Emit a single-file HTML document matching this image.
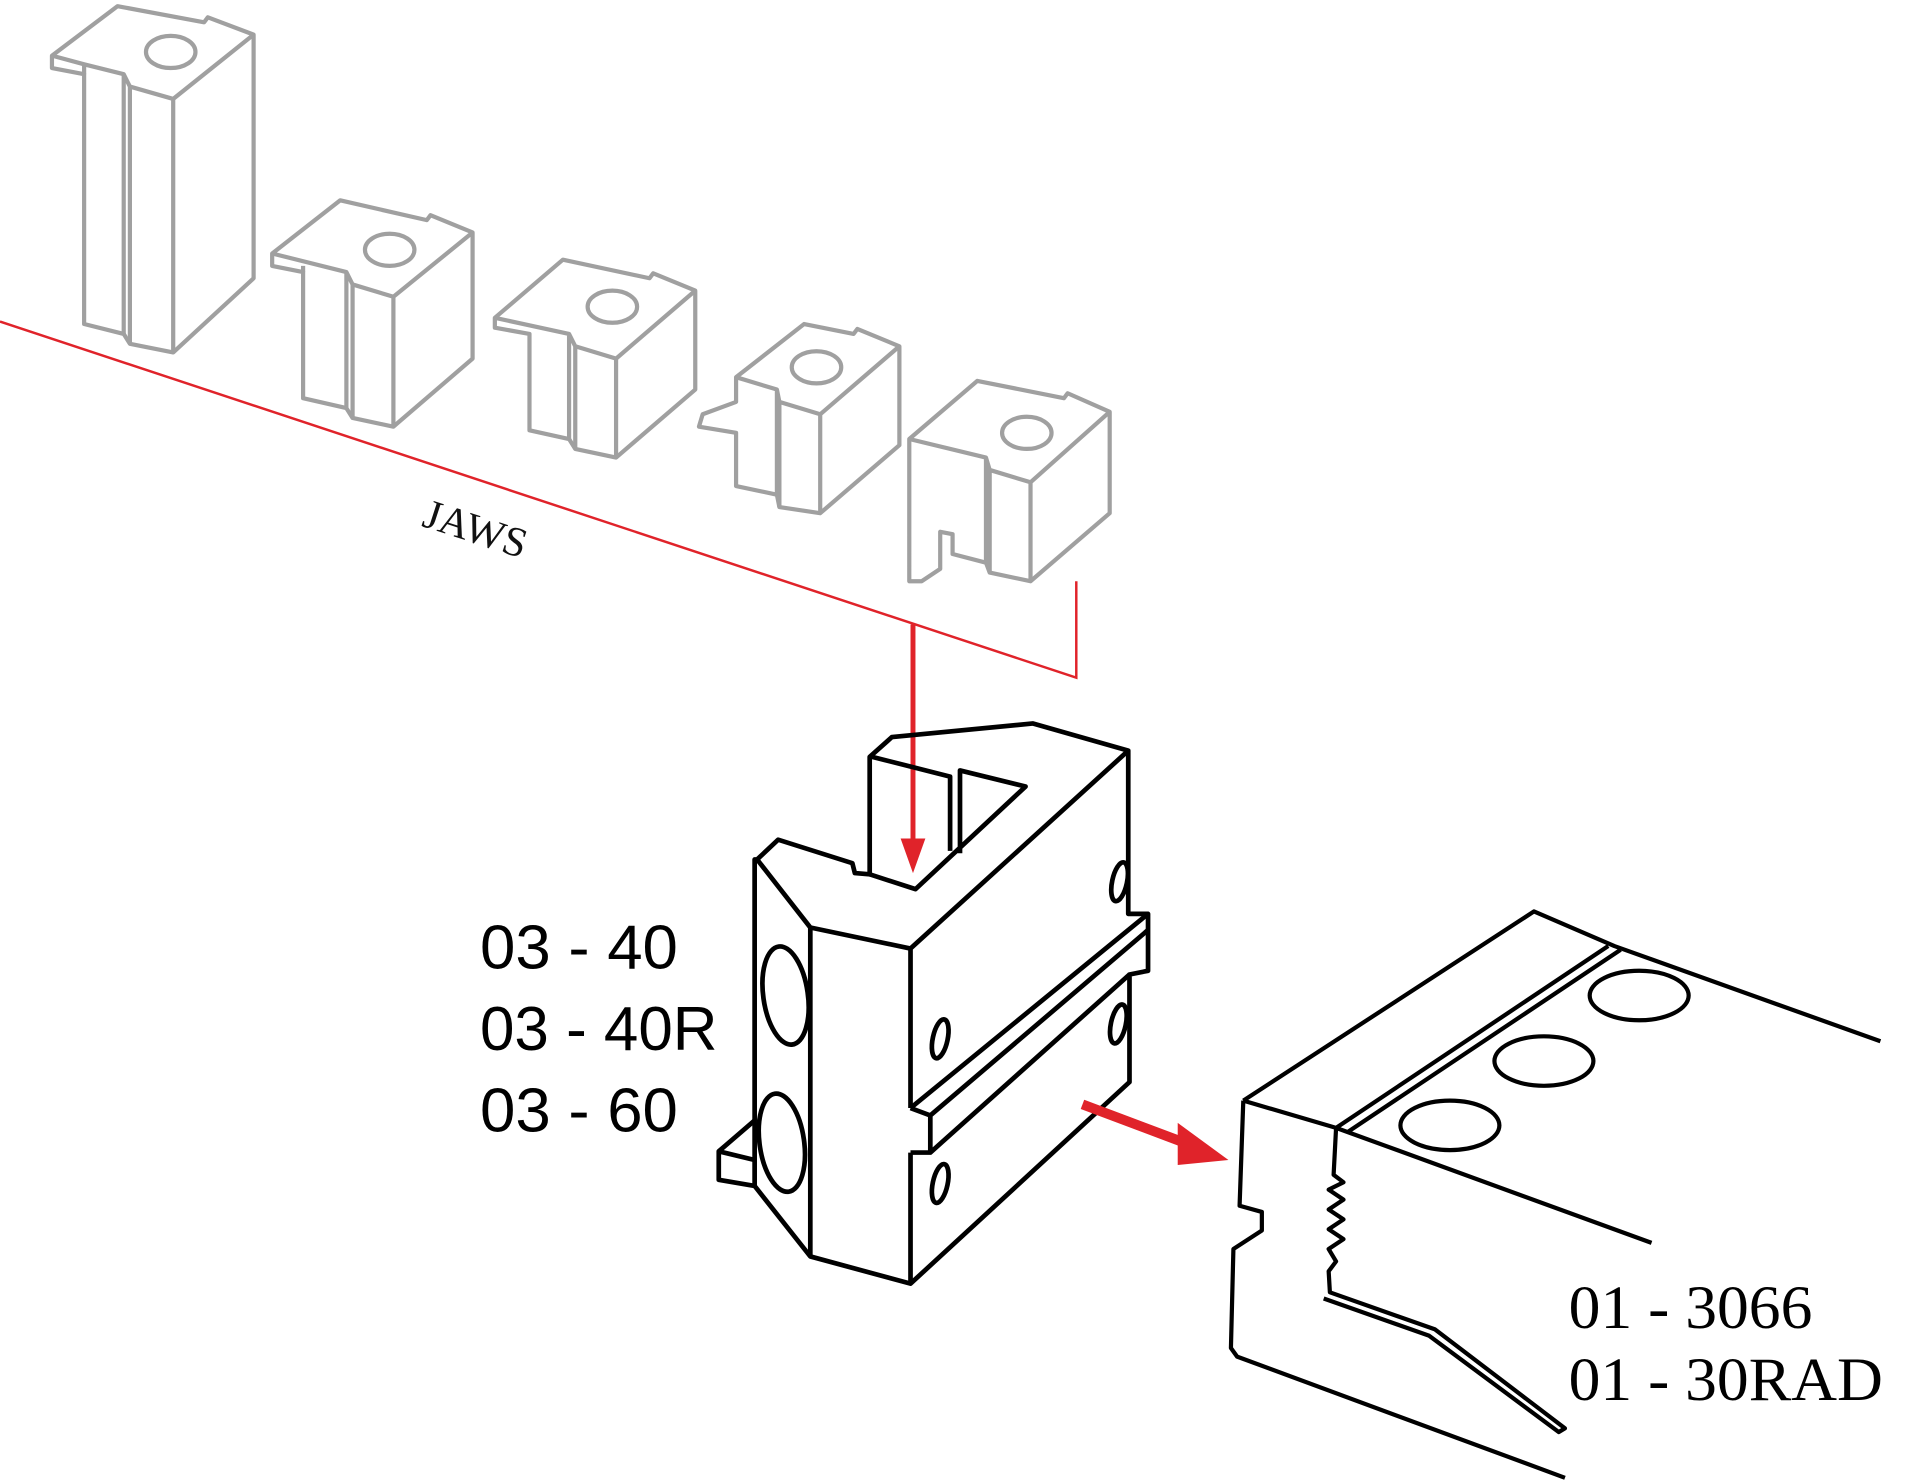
<!DOCTYPE html>
<html><head><meta charset="utf-8"><style>
html,body{margin:0;padding:0;background:#fff;width:1920px;height:1484px;overflow:hidden}
svg{display:block}
</style></head><body>
<svg width="1920" height="1484" viewBox="0 0 1552 1200" preserveAspectRatio="none" xmlns="http://www.w3.org/2000/svg">
<g fill="none" stroke="#a0a0a0" stroke-width="3.4" stroke-linejoin="round">
<path d="M42,45 L95,5 L165,18 L168,14 L205,28 L205,225 L140,285 L105,278 L100,270 L68,262 L68,60 L42,55 Z"/>
<path d="M42,45 L68,52 L100,60 L105,70 L140,80 L205,28 M68,52 L68,60 M100,60 L100,270 M105,70 L105,278 M140,80 L140,285"/>
<ellipse cx="138" cy="42" rx="20" ry="13"/>
<path d="M220,205 L275,162 L345,178 L348,174 L382,188 L382,290 L318,345 L285,338 L280,330 L245,322 L245,220 L220,215 Z"/>
<path d="M220,205 L280,220 L285,230 L318,240 L382,188 M280,220 L280,330 M285,230 L285,338 M318,240 L318,345 M245,215 L245,220"/>
<ellipse cx="315" cy="202" rx="20" ry="13"/>
<path d="M400,257 L455,210 L525,225 L528,221 L562,235 L562,315 L498,370 L465,363 L460,355 L428,348 L428,270 L400,265 Z"/>
<path d="M400,257 L460,270 L465,280 L498,290 L562,235 M460,270 L460,355 M465,280 L465,363 M498,290 L498,370"/>
<ellipse cx="495" cy="248" rx="20" ry="13"/>
<path d="M595,305 L650,262 L690,270 L693,266 L727,280 L727,360 L663,415 L630,410 L628,400 L595,393 L595,350 L565,345 L568,335 L595,325 Z"/>
<path d="M595,305 L628,315 L630,325 L663,335 L727,280 M628,315 L628,400 M630,325 L630,410 M663,335 L663,415"/>
<ellipse cx="660" cy="297" rx="20" ry="13"/>
<path d="M735,355 L790,308 L860,322 L863,318 L897,333 L897,415 L833,470 L800,463 L797,455 L770,448 L770,432 L760,430 L760,460 L745,470 L735,470 Z"/>
<path d="M735,355 L797,370 L800,380 L833,390 L897,333 M797,370 L797,455 M800,380 L800,463 M833,390 L833,470"/>
<ellipse cx="830" cy="350" rx="20" ry="13"/>
</g>
<g stroke="#e0232a" stroke-width="2" fill="none">
<path d="M0,260 L870,548 L870,470"/>
</g>
<path d="M738,505 L738,684" stroke="#e0232a" stroke-width="4"/>
<path d="M728,678 L748,678 L738,706 Z" fill="#e0232a"/>
<text x="340" y="425" transform="rotate(18 340 425)" font-family="Liberation Serif, serif" font-size="34" fill="#111">JAWS</text>
<g fill="none" stroke="#000" stroke-width="3.8" stroke-linejoin="round">
<path d="M612,695 L629,679 L689,698 L691,706 L703,707 L703,612 L721,596 L835,585 L912,607 L912,739 L928,739 L928,785 L913,788 L913,875 L736,1038 L655,1016 L610,959 L610,695 Z"/>
<path d="M612,695 L655,750 L736,767 L912,607 M655,750 L655,1016 M736,767 L736,896 M703,707 L740,719 L829,636 L776,623 L776,690 M705,612 L768,628 L768,688"/>
<path d="M736,896 L928,739 M736,896 L752,902 L928,752 M752,902 L752,932 L913,788 M736,932 L752,932 M736,932 L736,1038"/>
<path d="M610,906 L581,931 L581,954 L610,959 M581,931 L610,938"/>
<ellipse cx="635" cy="805" rx="18" ry="40" transform="rotate(-8 635 805)"/>
<ellipse cx="632" cy="924" rx="18" ry="40" transform="rotate(-8 632 924)"/>
<ellipse cx="760" cy="840" rx="6" ry="16" transform="rotate(12 760 840)"/>
<ellipse cx="905" cy="713" rx="6" ry="16" transform="rotate(12 905 713)"/>
<ellipse cx="904" cy="828" rx="6" ry="16" transform="rotate(12 904 828)"/>
<ellipse cx="760" cy="957" rx="6" ry="16" transform="rotate(12 760 957)"/>
</g>
<path d="M875,893 L960,925" stroke="#e0232a" stroke-width="8"/>
<path d="M952,908 L993,938 L952,942 Z" fill="#e0232a"/>
<g fill="none" stroke="#000" stroke-width="3.4" stroke-linejoin="round">
<path d="M1005,890 L1240,737 L1305,765 L1520,842"/>
<path d="M1005,890 L1080,912 L1300,765 M1090,915 L1310,768 M1080,912 L1335,1005"/>
<path d="M1005,890 L1002,975 L1020,980 L1020,995 L997,1010 L995,1090 L1000,1097 L1265,1195"/>
<path d="M1080,912 L1078,950 L1086,956 L1074,962 L1086,970 L1074,978 L1086,986 L1074,994 L1086,1002 L1074,1010 L1080,1020 L1074,1028 L1075,1045 L1160,1075 L1265,1155 L1260,1158 L1155,1080 L1070,1050"/>
<ellipse cx="1325" cy="805" rx="40" ry="20"/>
<ellipse cx="1248" cy="858" rx="40" ry="20"/>
<ellipse cx="1172" cy="910" rx="40" ry="20"/>
</g>
<g font-family="Liberation Sans Narrow, Liberation Sans, sans-serif" font-size="50" fill="#000">
<text x="388" y="783" textLength="160" lengthAdjust="spacingAndGlyphs">03 - 40</text>
<text x="388" y="849" textLength="192" lengthAdjust="spacingAndGlyphs">03 - 40R</text>
<text x="388" y="915" textLength="160" lengthAdjust="spacingAndGlyphs">03 - 60</text>
</g>
<g font-family="Liberation Serif, serif" font-size="50" fill="#000">
<text x="1268" y="1074" textLength="197" lengthAdjust="spacingAndGlyphs">01 - 3066</text>
<text x="1268" y="1132" textLength="254" lengthAdjust="spacingAndGlyphs">01 - 30RAD</text>
</g>
</svg>
</body></html>
